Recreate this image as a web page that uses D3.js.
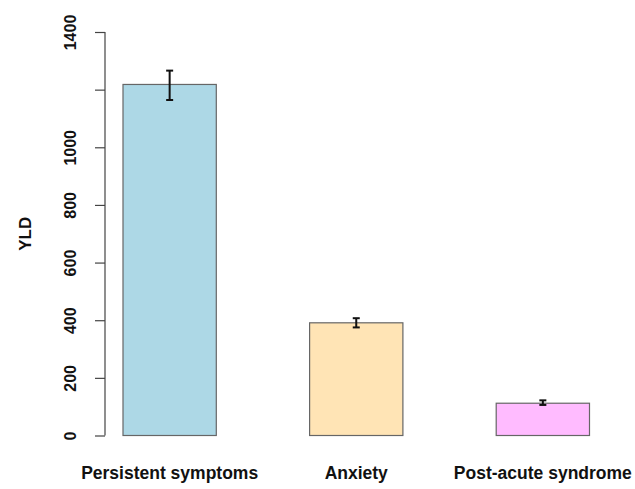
<!DOCTYPE html>
<html>
<head>
<meta charset="utf-8">
<script src="https://cdn.jsdelivr.net/npm/d3@7"></script>
<style>
  body { margin: 0; background: #fff; }
  svg { display: block; font-family: 'Liberation Sans', Arial, sans-serif; }
</style>
</head>
<body>
<div id="chart"></div>
<script>
const categories = ['Persistent symptoms', 'Anxiety', 'Post-acute syndrome']
const values = [1218, 391, 112]
const lower = [1164, 375, 106]
const upper = [1266, 407, 122]
const colors = ['#ADD8E6', '#FFE4B5', '#FFBBFF']
const yTicks = [0, 200, 400, 600, 800, 1000, 1200, 1400]
// R drops the 1200 label because it would collide
const yTickLabels = ['0', '200', '400', '600', '800', '1000', '', '1400']

const width = 635
const height = 489

const svg = d3.select('#chart').append('svg')
  .attr('width', width)
  .attr('height', height)

const x = d3.scaleBand()
  .domain(categories)
  .range([123, 589.5])
  .paddingInner(0.5)
  .paddingOuter(0)

const y = d3.scaleLinear()
  .domain([0, 1400])
  .range([435.5, 32])

// bars
svg.append('g').selectAll('rect')
  .data(categories)
  .join('rect')
  .attr('x', d => x(d))
  .attr('y', (d, i) => y(values[i]))
  .attr('width', x.bandwidth())
  .attr('height', (d, i) => y(0) - y(values[i]))
  .attr('fill', (d, i) => colors[i])
  .attr('stroke', '#666')
  .attr('stroke-width', 1.2)

// error bars
const err = svg.append('g').attr('stroke', '#111').attr('stroke-width', 2)
categories.forEach((c, i) => {
  const cx = x(c) + x.bandwidth() / 2
  err.append('line').attr('x1', cx).attr('x2', cx).attr('y1', y(lower[i])).attr('y2', y(upper[i]))
  err.append('line').attr('x1', cx - 3.5).attr('x2', cx + 3.5).attr('y1', y(lower[i])).attr('y2', y(lower[i]))
  err.append('line').attr('x1', cx - 3.5).attr('x2', cx + 3.5).attr('y1', y(upper[i])).attr('y2', y(upper[i]))
})

// y axis
const yAxis = d3.axisLeft(y)
  .tickValues(yTicks)
  .tickFormat((d, i) => yTickLabels[i])
  .tickSize(10)
  .tickPadding(0)

const ag = svg.append('g')
  .attr('transform', 'translate(105,0)')
  .call(yAxis)
ag.select('.domain')
  .attr('d', `M0,${y(0)}V${y(1400)}`)
  .attr('stroke', '#444')
  .attr('stroke-width', 1.2)
ag.selectAll('.tick line').attr('stroke', '#444').attr('stroke-width', 1.2)
ag.selectAll('.tick text')
  .attr('x', null)
  .attr('dy', null)
  .attr('transform', 'translate(-35,0) rotate(-90)')
  .attr('text-anchor', 'middle')
  .attr('dominant-baseline', 'central')
  .attr('font-size', 16)
  .attr('font-weight', 'bold')
  .attr('fill', '#111')

// y title
svg.append('text')
  .attr('transform', `translate(25,${(y(0) + y(1400)) / 2}) rotate(-90)`)
  .attr('text-anchor', 'middle')
  .attr('dominant-baseline', 'central')
  .attr('font-size', 17)
  .attr('font-weight', 'bold')
  .attr('fill', '#111')
  .text('YLD')

// category labels
svg.append('g').selectAll('text')
  .data(categories)
  .join('text')
  .attr('x', d => x(d) + x.bandwidth() / 2)
  .attr('y', 479)
  .attr('text-anchor', 'middle')
  .attr('font-size', 17.5)
  .attr('font-weight', 'bold')
  .attr('fill', '#111')
  .text(d => d)
</script>
</body>
</html>
